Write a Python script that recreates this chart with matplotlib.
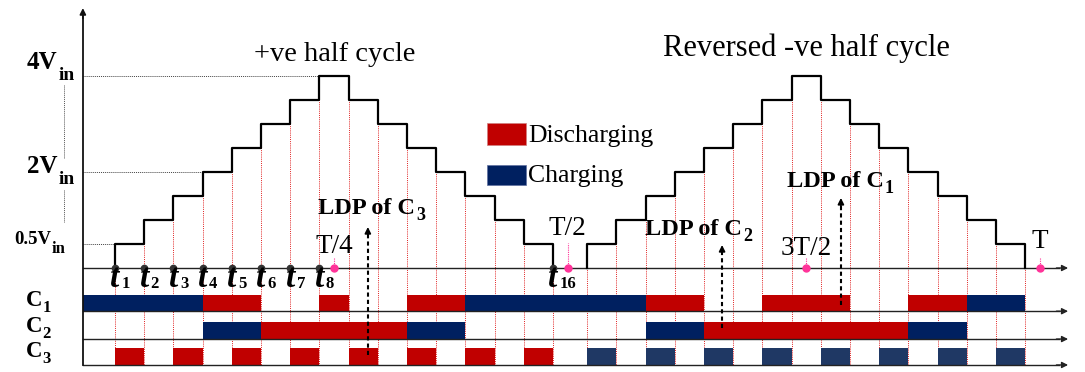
import matplotlib
matplotlib.use("Agg")
import matplotlib.pyplot as plt

# ---------------- data ----------------
# step instants (in time-slot units); positive half and reversed negative half
t_pos = [1, 2, 3, 4, 5, 6, 7, 8, 9, 10, 11, 12, 13, 14, 15, 16]
t_neg = [17.17, 18.17, 19.17, 20.17, 21.17, 22.17, 23.17, 24.17, 25.17,
         26.17, 27.17, 28.17, 29.17, 30.17, 31.17, 32.17]
# output level in each interval (units of 0.5 Vin)
levels = [1, 2, 3, 4, 5, 6, 7, 8, 7, 6, 5, 4, 3, 2, 1]

level_labels = [(8, "4V", "in"), (4, "2V", "in"), (1, "0.5V", "in")]
t_labels = [(1, "1"), (2, "2"), (3, "3"), (4, "4"), (5, "5"), (6, "6"),
            (7, "7"), (8, "8"), (16, "16")]
period_marks = [(8.5, "T/4"), (16.5, "T/2"), (24.67, "3T/2"), (32.67, "T")]

# capacitor states: (start, end, state)  D = discharging, C = charging
c1_states = [(-0.1, 4, "C"), (4, 6, "D"), (8, 9, "D"), (11, 13, "D"),
             (13, 19.17, "C"), (19.17, 21.17, "D"), (23.17, 26.17, "D"),
             (28.17, 30.17, "D"), (30.17, 32.17, "C")]
c2_states = [(4, 6, "C"), (6, 11, "D"), (11, 13, "C"),
             (19.17, 21.17, "C"), (21.17, 28.17, "D"), (28.17, 30.17, "C")]
c3_states = [(1, 2, "D"), (3, 4, "D"), (5, 6, "D"), (7, 8, "D"),
             (9, 10, "D"), (11, 12, "D"), (13, 14, "D"), (15, 16, "D"),
             (17.17, 18.17, "C"), (19.17, 20.17, "C"), (21.17, 22.17, "C"),
             (23.17, 24.17, "C"), (25.17, 26.17, "C"), (27.17, 28.17, "C"),
             (29.17, 30.17, "C"), (31.17, 32.17, "C")]

# ---------------- style ----------------
SERIF = "Liberation Serif"
RED = "#c00000"
NAVY = "#002060"
NAVY3 = "#1f3864"
PINK = "#ff3399"

fig = plt.figure(figsize=(10.85, 3.72), dpi=100)
ax = fig.add_axes([0, 0, 1, 1])
ax.set_xlim(-2.938, 34.219)
ax.set_ylim(-4.333, 11.167)
ax.axis("off")
renderer = fig.canvas.get_renderer()

X_AXIS = -0.1
X_END = 33.64
ROW_LINES = [0, -1.8, -2.96, -4.04]
ROWS = {"C1": (-1.8, 0.675), "C2": (-2.96, 0.71), "C3": (-4.04, 0.71)}
Y_BOTTOM = -4.04


def sub_text(x, y, main, sub, size, subsize, drop_px, gap_px=0.0,
             weight="bold", style="normal", subweight="bold", ha="left",
             color="black"):
    t = ax.text(x, y, main, fontsize=size, fontweight=weight, fontstyle=style,
                family=SERIF, ha=ha, va="baseline", color=color, zorder=10)
    bb = t.get_window_extent(renderer)
    dx, dy = ax.transData.transform((x, y))
    sx, sy = ax.transData.inverted().transform((bb.x1 + gap_px, dy - drop_px))
    ax.text(sx, sy, sub, fontsize=subsize, fontweight=subweight,
            family=SERIF, ha="left", va="baseline", color=color, zorder=10)


def arrow(x0, y0, x1, y1, lw=1.0, color="#222222", ms=10):
    ax.annotate("", xy=(x1, y1), xytext=(x0, y0),
                arrowprops=dict(arrowstyle="-|>", lw=lw, color=color,
                                mutation_scale=ms, shrinkA=0, shrinkB=0),
                zorder=6)


# red dotted instants
for ts in (t_pos, t_neg):
    for i, t in enumerate(ts):
        left = levels[i - 1] if i > 0 else 0
        right = levels[i] if i < len(levels) else 0
        top = max(left, right)
        ax.plot([t, t], [top, Y_BOTTOM], color="#e02020", lw=0.7,
                ls=(0, (1, 1.2)), zorder=1)

# staircase waveforms
for ts in (t_pos, t_neg):
    xs = [ts[0]] + ts
    ys = [0] + levels + [0]
    ax.plot(xs, ys, drawstyle="steps-post", color="black", lw=1.6, zorder=4)

# level guide lines
for lev, main, sub in level_labels:
    ax.plot([X_AXIS, t_pos[lev - 1]], [lev, lev], color="#444444", lw=0.7,
            ls=(0, (1, 1)), zorder=2)
ax.plot([-0.747, -0.747], [7.625, 4.583], color="#555555", lw=0.7,
        ls=(0, (1, 1)))
ax.plot([-0.747, -0.747], [3.25, 1.917], color="#555555", lw=0.7,
        ls=(0, (1, 1)))

# level labels
sub_text(-2.014, 8.29, "4V", "in", 18, 14, 11, gap_px=1)
sub_text(-2.014, 3.96, "2V", "in", 18, 14, 11, gap_px=1)
sub_text(-2.46, 1.0, "0.5V", "in", 13.5, 12, 9, gap_px=1)

# bars
colors = {"D": RED, "C": NAVY}
for name, states in (("C1", c1_states), ("C2", c2_states), ("C3", c3_states)):
    base, h = ROWS[name]
    for s, e, st in states:
        col = colors[st]
        if name == "C3" and st == "C":
            col = NAVY3
        ax.bar(s, h, width=e - s, bottom=base, align="edge", color=col,
               lw=0, zorder=2)

# axes lines
for y in ROW_LINES:
    ax.plot([X_AXIS, X_END - 0.3], [y, y], color="#222222", lw=1.0, zorder=3)
    arrow(X_END - 0.4, y, X_END, y, lw=1.0, ms=9)
ax.plot([X_AXIS, X_AXIS], [Y_BOTTOM, 10.5], color="#111111", lw=1.3, zorder=3)
arrow(X_AXIS, 10.4, X_AXIS, 10.83, lw=1.2, ms=9, color="#111111")

# instant dots and labels
for idx, s in t_labels:
    t = t_pos[idx - 1]
    ax.plot(t, 0, "o", color="#333333", ms=4.5, zorder=5)
    ax.text(t, -0.78, "t", fontsize=24, fontweight="bold", fontstyle="italic",
            family=SERIF, ha="center", va="baseline", zorder=10)
    ax.text(t + 0.22, -0.85, s, fontsize=12, fontweight="bold",
            family=SERIF, ha="left", va="baseline", zorder=10)

# period marks
pink_h = {"T/4": 0.42, "T/2": 1.04, "3T/2": 0.45, "T": 0.45}
text_y = {"T/4": 0.625, "T/2": 1.375, "3T/2": 0.54, "T": 0.83}
for x, lab in period_marks:
    ax.plot([x, x], [0, pink_h[lab]], color=PINK, lw=0.8, ls=(0, (1, 1)),
            zorder=5)
    ax.plot(x, 0, "o", color=PINK, ms=5, zorder=6)
    ax.text(x, text_y[lab], lab, fontsize=19.5, family=SERIF, ha="center",
            va="baseline", zorder=10)

# capacitor labels
for name, yb in (("1", -1.583), ("2", -2.667), ("3", -3.708)):
    sub_text(-2.05, yb, "C", name, 16.5, 12, 6, gap_px=0)

# titles
ax.text(8.52, 8.625, "+ve half cycle", fontsize=20.5, family=SERIF,
        ha="center", va="baseline")
ax.text(24.68, 8.85, "Reversed -ve half cycle", fontsize=22, family=SERIF,
        ha="center", va="baseline")

# legend
ax.bar(13.74, 0.915, width=1.34, bottom=5.125, align="edge", color=RED,
       edgecolor="#d08080", lw=0.5)
ax.bar(13.74, 0.83, width=1.34, bottom=3.46, align="edge", color=NAVY,
       edgecolor="#6070a0", lw=0.5)
ax.text(15.14, 5.25, "Discharging", fontsize=18.5, family=SERIF,
        ha="left", va="baseline")
ax.text(15.14, 3.58, "Charging", fontsize=18.5, family=SERIF,
        ha="left", va="baseline")

# LDP annotations
ldp = [(9.66, -3.625, 1.708, 7.95, 2.25, "3"),
       (21.79, -2.5, 0.958, 19.15, 1.375, "2"),
       (25.86, -1.54, 2.92, 24.01, 3.375, "1")]
for x, yb, yt, tx, ty, s in ldp:
    ax.plot([x, x], [yb, yt - 0.3], color="black", lw=1.5,
            ls=(0, (2, 1.5)), zorder=7)
    arrow(x, yt - 0.35, x, yt, lw=1.2, ms=9, color="black")
    sub_text(tx, ty, "LDP of C", s, 17.5, 13, 6, gap_px=1)

fig.savefig("out.png", dpi=100)
